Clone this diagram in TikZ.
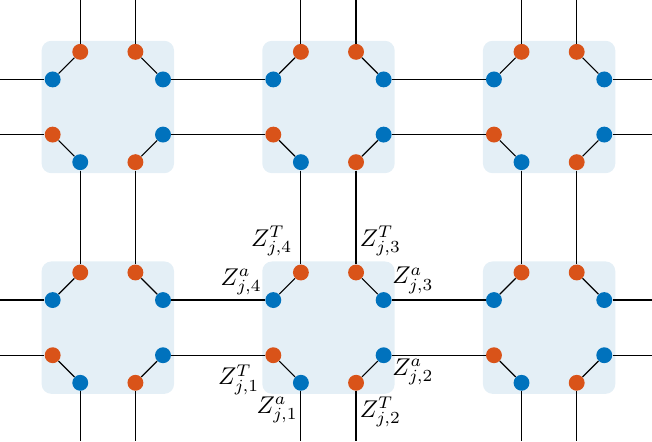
\documentclass[tikz,border=0pt]{standalone}
\usetikzlibrary{calc}
\definecolor{TClr}{rgb}{0.85,0.325,0.098}
\definecolor{AClr}{rgb}{0,0.447,0.741}
\definecolor{CellClr}{rgb}{0.894,0.937,0.965}

\begin{document}
\begin{tikzpicture}[
  Tdot/.style={circle,fill=TClr,inner sep=0pt,minimum size=8.2pt},
  Adot/.style={circle,fill=AClr,inner sep=0pt,minimum size=8.2pt},
  wire/.style={line width=0.6pt,color=black},
  zlbl/.style={inner sep=0pt,scale=1.25,transform shape}]
\useasboundingbox (-1.955,-2.06) rectangle (9.865,5.94);

\foreach \c in {0,1,2}
\foreach \r in {0,1}{
  \fill[CellClr,rounded corners=5pt] (4*\c-1.2,4*\r-1.2) rectangle (4*\c+1.2,4*\r+1.2);
  \node[Tdot] (T1-\c-\r) at (4*\c-1,4*\r-0.5) {};
  \node[Adot] (A1-\c-\r) at (4*\c-0.5,4*\r-1) {};
  \node[Tdot] (T2-\c-\r) at (4*\c+0.5,4*\r-1) {};
  \node[Adot] (A2-\c-\r) at (4*\c+1,4*\r-0.5) {};
  \node[Tdot] (T3-\c-\r) at (4*\c+0.5,4*\r+1) {};
  \node[Adot] (A3-\c-\r) at (4*\c+1,4*\r+0.5) {};
  \node[Tdot] (T4-\c-\r) at (4*\c-0.5,4*\r+1) {};
  \node[Adot] (A4-\c-\r) at (4*\c-1,4*\r+0.5) {};
  \foreach \k in {1,...,4}
    \draw[wire] (T\k-\c-\r) -- (A\k-\c-\r);
}

\foreach \r in {0,1}{
  \coordinate (W1-\r) at (-1.955,4*\r+0.5);
  \coordinate (W2-\r) at (-1.955,4*\r-0.5);
  \coordinate (E1-\r) at (9.865,4*\r+0.5);
  \coordinate (E2-\r) at (9.865,4*\r-0.5);
  \draw[wire] (W1-\r) -- (A4-0-\r);
  \draw[wire] (W2-\r) -- (T1-0-\r);
  \draw[wire] (A3-0-\r) -- (A4-1-\r);
  \draw[wire] (A3-1-\r) -- (A4-2-\r);
  \draw[wire] (A2-0-\r) -- (T1-1-\r);
  \draw[wire] (A2-1-\r) -- (T1-2-\r);
  \draw[wire] (A3-2-\r) -- (E1-\r);
  \draw[wire] (A2-2-\r) -- (E2-\r);
}
\foreach \c in {0,1,2}{
  \coordinate (N1-\c) at (4*\c-0.5,5.94);
  \coordinate (N2-\c) at (4*\c+0.5,5.94);
  \coordinate (S1-\c) at (4*\c-0.5,-2.06);
  \coordinate (S2-\c) at (4*\c+0.5,-2.06);
  \draw[wire] (N1-\c) -- (T4-\c-1);
  \draw[wire] (N2-\c) -- (T3-\c-1);
  \draw[wire] (A1-\c-1) -- (T4-\c-0);
  \draw[wire] (T2-\c-1) -- (T3-\c-0);
  \draw[wire] (A1-\c-0) -- (S1-\c);
  \draw[wire] (T2-\c-0) -- (S2-\c);
}

\node[zlbl,anchor=south east] (zT4) at ($(T4-1-0)+(-0.15,0.29)$) {$Z^T_{j,4}$};
\node[zlbl,anchor=south east] (za4) at ($(A4-1-0)+(-0.2,0.09)$) {$Z^a_{j,4}$};
\node[zlbl,anchor=south west] (zT3) at ($(T3-1-0)+(0.06,0.29)$) {$Z^T_{j,3}$};
\node[zlbl,anchor=south west] (za3) at ($(A3-1-0)+(0.15,0.11)$) {$Z^a_{j,3}$};
\node[zlbl,anchor=north east] (zT1) at ($(T1-1-0)+(-0.245,-0.16)$) {$Z^T_{j,1}$};
\node[zlbl,anchor=north east] (za1) at ($(A1-1-0)+(-0.05,-0.25)$) {$Z^a_{j,1}$};
\node[zlbl,anchor=north west] (za2) at ($(A2-1-0)+(0.15,-0.05)$) {$Z^a_{j,2}$};
\node[zlbl,anchor=north west] (zT2) at ($(T2-1-0)+(0.06,-0.25)$) {$Z^T_{j,2}$};
\end{tikzpicture}
\end{document}
